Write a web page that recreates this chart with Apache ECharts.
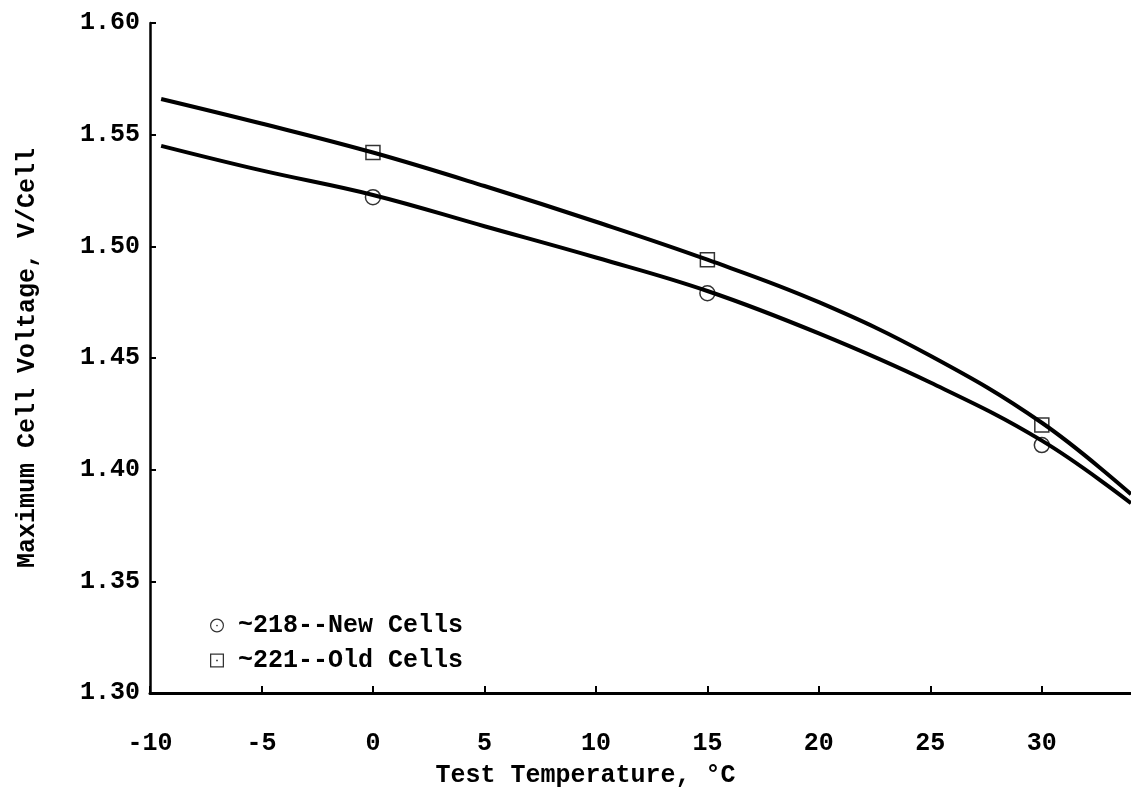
<!DOCTYPE html>
<html>
<head>
<meta charset="utf-8">
<script src="https://cdn.jsdelivr.net/npm/echarts@6/dist/echarts.min.js"></script>
<style>
html,body{margin:0;padding:0;background:#fff;}
#chart{width:1131px;height:793px;}
</style>
</head>
<body>
<div id="chart"></div>
<script>
// Data
var curveTemps = [-9.5, -5, 0, 5, 10, 15, 20, 25, 30, 34];
var curveOld = [1.566, 1.555, 1.542, 1.527, 1.511, 1.494, 1.475, 1.451, 1.421, 1.389];
var curveNew = [1.545, 1.534, 1.523, 1.509, 1.495, 1.480, 1.461, 1.439, 1.413, 1.385];
var pointTemps = [0, 15, 30];
var pointsNew = [1.522, 1.479, 1.411];
var pointsOld = [1.542, 1.494, 1.420];
var seriesNames = ['~218--New Cells', '~221--Old Cells'];
var xTitle = 'Test Temperature, \u00B0C';
var yTitle = 'Maximum Cell Voltage, V/Cell';

function pairs(xs, ys) { return xs.map(function (x, i) { return [x, ys[i]]; }); }

var FONT = 'Liberation Mono';
var FW = 'bold';
var ringIcon = 'path://M0,10 A10,10 0 1,1 20,10 A10,10 0 1,1 0,10 Z M1.7,10 A8.3,8.3 0 1,0 18.3,10 A8.3,8.3 0 1,0 1.7,10 Z M8.8,10 A1.2,1.2 0 1,1 11.2,10 A1.2,1.2 0 1,1 8.8,10 Z';
var squareIcon = 'path://M0,0 L20,0 L20,20 L0,20 Z M1.8,1.8 L1.8,18.2 L18.2,18.2 L18.2,1.8 Z M8.8,8.8 L11.2,8.8 L11.2,11.2 L8.8,11.2 Z';

var chart = echarts.init(document.getElementById('chart'));
chart.setOption({
  backgroundColor: '#fff',
  animation: false,
  textStyle: { fontFamily: FONT, color: '#000', fontWeight: FW },
  grid: { left: 150, right: 0, top: 23, bottom: 100, containLabel: false, outerBoundsMode: 'none' },
  legend: {
    orient: 'vertical',
    left: 205,
    top: 608,
    itemWidth: 14,
    itemHeight: 14,
    itemGap: 10,
    data: [
      { name: seriesNames[0], icon: ringIcon },
      { name: seriesNames[1], icon: squareIcon }
    ],
    itemStyle: { color: '#000', borderWidth: 0 },
    textStyle: { fontFamily: FONT, fontWeight: FW, fontSize: 25, color: '#000', padding: [0, 0, 0, 9] },
    selectedMode: false
  },
  xAxis: {
    type: 'value',
    min: -10,
    max: 34,
    interval: 5,
    name: xTitle,
    nameLocation: 'middle',
    nameGap: 70,
    nameTextStyle: { fontFamily: FONT, fontWeight: FW, fontSize: 25, color: '#000', padding: [0, 110, 0, 0] },
    splitLine: { show: false },
    axisLine: { onZero: false, lineStyle: { color: '#000', width: 3 } },
    axisTick: { inside: true, length: 7, lineStyle: { color: '#000', width: 2 } },
    axisLabel: { showMaxLabel: false, margin: 38, fontFamily: FONT, fontWeight: FW, fontSize: 25, color: '#000' }
  },
  yAxis: {
    type: 'value',
    min: 1.30,
    max: 1.60,
    interval: 0.05,
    name: yTitle,
    nameLocation: 'middle',
    nameRotate: 90,
    nameGap: 110,
    nameTextStyle: { fontFamily: FONT, fontWeight: FW, fontSize: 25, color: '#000' },
    splitLine: { show: false },
    axisLine: { onZero: false, lineStyle: { color: '#000', width: 2.5 } },
    axisTick: { inside: true, length: 6, lineStyle: { color: '#000', width: 2 } },
    axisLabel: { margin: 10, fontFamily: FONT, fontWeight: FW, fontSize: 25, color: '#000',
      formatter: function (v) { return v.toFixed(2); } }
  },
  series: [
    {
      name: 'curveOld', type: 'line', smooth: 0.4, showSymbol: false, silent: true,
      data: pairs(curveTemps, curveOld),
      lineStyle: { color: '#000', width: 4 }, z: 2
    },
    {
      name: 'curveNew', type: 'line', smooth: 0.4, showSymbol: false, silent: true,
      data: pairs(curveTemps, curveNew),
      lineStyle: { color: '#000', width: 4 }, z: 2
    },
    {
      name: seriesNames[0], type: 'scatter', symbol: 'circle', symbolSize: 15,
      data: pairs(pointTemps, pointsNew),
      itemStyle: { color: 'rgba(255,255,255,0)', borderColor: '#000', borderWidth: 1.5 }, z: 3
    },
    {
      name: seriesNames[1], type: 'scatter', symbol: 'rect', symbolSize: 14,
      data: pairs(pointTemps, pointsOld),
      itemStyle: { color: 'rgba(255,255,255,0)', borderColor: '#000', borderWidth: 1.5 }, z: 3
    }
  ]
});
</script>
</body>
</html>
